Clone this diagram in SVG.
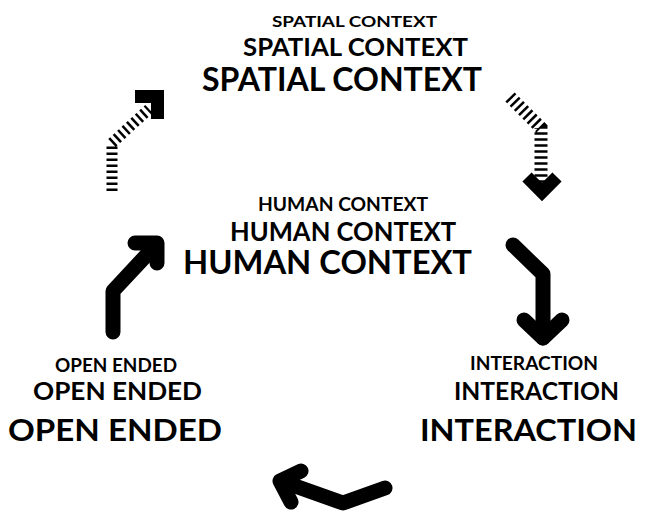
<svg xmlns="http://www.w3.org/2000/svg" width="645" height="515" viewBox="0 0 645 515">
<style>
text{font-family:Lato,"Open Sans","Liberation Sans",sans-serif;font-weight:700;fill:#000}
.hatch{fill:none;stroke:#000;stroke-dasharray:2.5 3.5;stroke-linejoin:miter}
.hhead{fill:none;stroke:#000;stroke-width:13;stroke-linejoin:miter;stroke-linecap:butt}
.solid{fill:none;stroke:#000;stroke-width:15;stroke-linecap:round;stroke-linejoin:round}
</style>
<rect width="645" height="515" fill="#fff"/>
<g id="spatial-context">
<text x="272" y="27" font-size="16" textLength="165" lengthAdjust="spacingAndGlyphs">SPATIAL CONTEXT</text>
<text x="243" y="55.5" font-size="25" textLength="225" lengthAdjust="spacingAndGlyphs">SPATIAL CONTEXT</text>
<text x="202" y="90.5" font-size="32" textLength="280" lengthAdjust="spacingAndGlyphs">SPATIAL CONTEXT</text>
</g>
<g id="human-context">
<text x="258" y="210.5" font-size="18" textLength="170" lengthAdjust="spacingAndGlyphs">HUMAN CONTEXT</text>
<text x="230" y="240.5" font-size="27" textLength="226" lengthAdjust="spacingAndGlyphs">HUMAN CONTEXT</text>
<text x="183" y="273.5" font-size="32" textLength="289" lengthAdjust="spacingAndGlyphs">HUMAN CONTEXT</text>
</g>
<g id="open-ended">
<text x="55" y="372" font-size="19" textLength="122" lengthAdjust="spacingAndGlyphs">OPEN ENDED</text>
<text x="33" y="400" font-size="24" textLength="169" lengthAdjust="spacingAndGlyphs">OPEN ENDED</text>
<text x="8" y="441" font-size="31" textLength="214" lengthAdjust="spacingAndGlyphs">OPEN ENDED</text>
</g>
<g id="interaction">
<text x="470" y="370" font-size="19" textLength="128" lengthAdjust="spacingAndGlyphs">INTERACTION</text>
<text x="454" y="400" font-size="24" textLength="165" lengthAdjust="spacingAndGlyphs">INTERACTION</text>
<text x="420" y="441" font-size="31" textLength="217" lengthAdjust="spacingAndGlyphs">INTERACTION</text>
</g>
<g id="connectors">
<path class="hatch" stroke-width="11" d="M112,191 L112,143 L149,109"/>
<polyline class="hhead" points="135,96.5 157.5,96.5 157.5,119"/>
<path class="hatch" stroke-width="13" d="M510,97 L541,128 L541,186"/>
<polyline class="hhead" points="527,177 542,192 557,177"/>
<path class="solid" d="M513,245 L543,274 L543,338"/>
<polyline class="solid" points="524,320 543,338 562,320"/>
<path class="solid" d="M113,332 L113,291 L155,246"/>
<polyline class="solid" points="135,243 157,243 157,263"/>
<path class="solid" d="M385,488 L343,503 L281,481"/>
<polyline class="solid" points="291,502 280,481 301,471"/>
</g>
</svg>
